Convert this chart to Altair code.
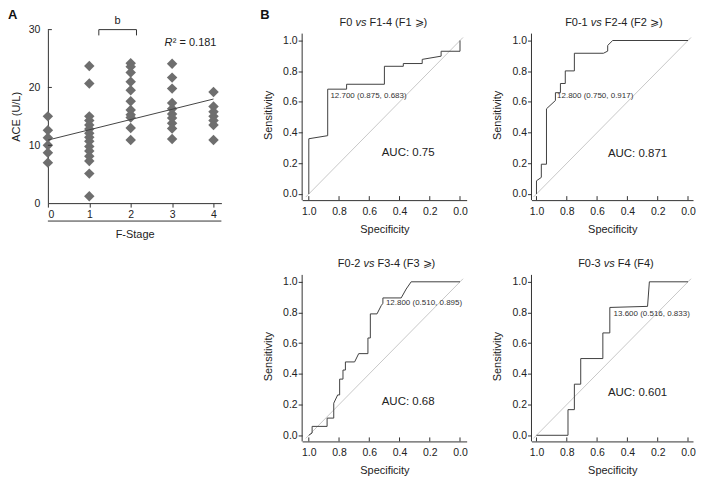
import altair as alt
import pandas as pd

FONT = "Liberation Sans"
INK = "#333333"

# ---------------- Panel A data ----------------
stage0 = [15.0, 12.6, 11.3, 10.0, 8.7, 7.0]
stage1 = [23.7, 20.7, 15.0, 14.3, 13.5, 12.8, 12.1, 11.4, 10.7, 9.8, 9.0, 8.1, 7.3, 5.1, 1.2]
stage2 = [24.2, 23.6, 22.6, 21.0, 19.5, 17.6, 16.1, 15.3, 14.8, 13.0, 10.9]
stage3 = [24.1, 21.7, 19.8, 17.3, 16.3, 15.4, 14.7, 13.8, 12.9, 11.1]
stage4 = [19.2, 16.7, 15.8, 15.0, 14.3, 13.5, 10.9]
fit_x = [0, 4]
fit_y = [10.9, 18.0]
bracket_x = [1.23, 1.23, 2.14, 2.14]
bracket_y = [29.0, 30.0, 30.0, 29.0]
a_ticks = [10, 20, 30]

# ---------------- Panel B data (ROC curves) ----------------
spec1 = [1.0, 1.0, 0.875, 0.875, 0.75, 0.75, 0.5, 0.5, 0.375, 0.375, 0.25, 0.25, 0.125, 0.125, 0.0, 0.0]
sens1 = [0.0, 0.36, 0.38, 0.683, 0.683, 0.715, 0.715, 0.832, 0.832, 0.85, 0.85, 0.877, 0.898, 0.93, 0.93, 1.0]

spec2 = [1.0, 1.0, 0.968, 0.968, 0.934, 0.934, 0.875, 0.875, 0.842, 0.842, 0.81, 0.81, 0.75, 0.75, 0.558, 0.53, 0.53, 0.497, 0.0]
sens2 = [0.0, 0.086, 0.108, 0.194, 0.194, 0.555, 0.609, 0.66, 0.66, 0.72, 0.72, 0.802, 0.802, 0.917, 0.917, 0.931, 0.968, 1.0, 1.0]

spec3 = [1.0, 0.978, 0.978, 0.879, 0.879, 0.835, 0.835, 0.809, 0.796, 0.796, 0.774, 0.774, 0.758, 0.758,
         0.697, 0.670, 0.609, 0.609, 0.593, 0.593, 0.549, 0.521, 0.510, 0.510, 0.389, 0.356, 0.323, 0.0]
sens3 = [0.0, 0.015, 0.058, 0.058, 0.112, 0.112, 0.209, 0.263, 0.263, 0.366, 0.366, 0.425, 0.425, 0.478,
         0.478, 0.532, 0.532, 0.634, 0.634, 0.791, 0.791, 0.845, 0.860, 0.895, 0.895, 0.953, 1.0, 1.0]

spec4 = [1.0, 0.792, 0.792, 0.75, 0.75, 0.708, 0.708, 0.562, 0.562, 0.516, 0.516, 0.267, 0.255, 0.0]
sens4 = [0.0, 0.0, 0.167, 0.167, 0.333, 0.333, 0.5, 0.5, 0.667, 0.667, 0.833, 0.84, 1.0, 1.0]

title_pre = ["F0", "F0-1", "F0-2", "F0-3"]
title_mid = ["vs", "vs", "vs", "vs"]
title_suf = ["F1-4 (F1 \u2a7e)", "F2-4 (F2 \u2a7e)", "F3-4 (F3 \u2a7e)", "F4 (F4)"]
title_vs_x = [59, 65, 67, 78]
cut_labels = ["12.700 (0.875, 0.683)", "12.800 (0.750, 0.917)", "12.800 (0.510, 0.895)", "13.600 (0.516, 0.833)"]
cut_spec = [0.857, 0.864, 0.49, 0.491]
cut_sens = [0.637, 0.639, 0.864, 0.79]
auc_labels = ["AUC: 0.75", "AUC: 0.871", "AUC: 0.68", "AUC: 0.601"]
auc_spec = [0.343, 0.333, 0.343, 0.333]
auc_sens = [0.266, 0.26, 0.22, 0.275]
roc_ticks = [1.0, 0.8, 0.6, 0.4, 0.2, 0.0]
roc_ymin, roc_ymax = -0.04, 1.045

# ---------------- Panel A ----------------
WA, HA = 174, 174
stages = [0] * len(stage0) + [1] * len(stage1) + [2] * len(stage2) + [3] * len(stage3) + [4] * len(stage4)
aces = stage0 + stage1 + stage2 + stage3 + stage4
ace_df = pd.DataFrame({"stage": stages, "ace": aces})

xA = alt.X("stage:Q", scale=alt.Scale(domain=[0, 4.19], nice=False, zero=False),
           axis=alt.Axis(values=[0, 1, 2, 3, 4], format="d", title="F-Stage", tickSize=4,
                         labelPadding=2, titlePadding=9, grid=False))
yA = alt.Y("ace:Q", scale=alt.Scale(domain=[0, 30], nice=False),
           axis=alt.Axis(values=[0, 10, 20, 30], ticks=False, labelPadding=8,
                         title="ACE (U/L)", titlePadding=7, grid=False))

pts = alt.Chart(ace_df).mark_point(shape="diamond", filled=True, size=110, opacity=1, color="#6e6e6e").encode(x=xA, y=yA)
fit = alt.Chart(pd.DataFrame({"stage": fit_x, "ace": fit_y})).mark_line(color="#444444", strokeWidth=1).encode(x=xA, y=yA)
yt = alt.Chart(pd.DataFrame({"ace": a_ticks})).mark_rule(color=INK, strokeWidth=1).encode(
    y=yA, x=alt.value(0), x2=alt.value(4))
br = alt.Chart(pd.DataFrame({"stage": bracket_x, "ace": bracket_y, "i": [0, 1, 2, 3]})).mark_line(
    color=INK, strokeWidth=1).encode(x=xA, y=yA, order="i:Q")
btxt = alt.Chart(pd.DataFrame({"stage": [1.685], "ace": [31.5], "t": ["b"]})).mark_text(
    fontSize=11, font=FONT, color="#222", baseline="middle").encode(x=xA, y=yA, text="t:N")
r2a = alt.Chart(pd.DataFrame({"stage": [4.07], "ace": [27.6], "t": ["\u00b2 = 0.181"]})).mark_text(
    fontSize=11, font=FONT, color="#222", align="right", baseline="middle").encode(x=xA, y=yA, text="t:N")
r2b = alt.Chart(pd.DataFrame({"stage": [4.07], "ace": [27.6], "t": ["R"]})).mark_text(
    fontSize=11, font=FONT, color="#222", align="right", baseline="middle", fontStyle="italic", dx=-44).encode(
    x=xA, y=yA, text="t:N")
under = alt.Chart(pd.DataFrame({"t": ["u"]})).mark_rule(color=INK, strokeWidth=1).encode(
    x=alt.value(0), x2=alt.value(WA), y=alt.value(HA + 18))
lblA = alt.Chart(pd.DataFrame({"t": ["A"]})).mark_text(
    fontSize=13, font=FONT, fontWeight="bold", color="#111", align="left", baseline="top").encode(
    x=alt.value(-40), y=alt.value(-21), text="t:N")

panelA = alt.layer(pts, fit, yt, br, btxt, r2a, r2b, under, lblA).properties(width=WA, height=HA)


# ---------------- Panel B ----------------
EXT = 4  # the ROC plot frame starts 4px above the top of its y axis line


def roc(k, width, xdom, with_B=False):
    H = 167 + EXT
    top = roc_ymax + (roc_ymax - roc_ymin) * EXT / 167.0
    spec = [spec1, spec2, spec3, spec4][k]
    sens = [sens1, sens2, sens3, sens4][k]
    xB = alt.X("spec:Q", scale=alt.Scale(domain=xdom, nice=False, zero=False),
               axis=alt.Axis(values=roc_ticks, format=".1f", title="Specificity", ticks=False,
                             labelPadding=6, titlePadding=7, grid=False))
    yB = alt.Y("sens:Q", scale=alt.Scale(domain=[roc_ymin, top], nice=False, zero=False),
               axis=alt.Axis(values=roc_ticks, format=".1f", title="Sensitivity", tickSize=4, domain=False,
                             labelPadding=1, titlePadding=9, grid=False))
    yline = alt.Chart(pd.DataFrame({"sens": [roc_ymin], "sens_end": [roc_ymax]})).mark_rule(
        color=INK, strokeWidth=1).encode(x=alt.value(0), y=yB, y2="sens_end:Q")
    diag = alt.Chart(pd.DataFrame({"spec": [1.02, -0.02], "sens": [-0.02, 1.02]})).mark_line(
        color="#c8c8c8", strokeWidth=1).encode(x=xB, y=yB)
    curve = alt.Chart(pd.DataFrame({"spec": spec, "sens": sens, "i": list(range(len(spec)))})).mark_line(
        color="#404040", strokeWidth=1).encode(x=xB, y=yB, order="i:Q")
    xt = alt.Chart(pd.DataFrame({"spec": roc_ticks})).mark_rule(color=INK, strokeWidth=1).encode(
        x=xB, y=alt.value(H), y2=alt.value(H - 4))
    cut = alt.Chart(pd.DataFrame({"spec": [cut_spec[k]], "sens": [cut_sens[k]], "t": [cut_labels[k]]})).mark_text(
        fontSize=8, font=FONT, color="#333", align="left", baseline="middle").encode(x=xB, y=yB, text="t:N")
    auc = alt.Chart(pd.DataFrame({"spec": [auc_spec[k]], "sens": [auc_sens[k]], "t": [auc_labels[k]]})).mark_text(
        fontSize=11.5, font=FONT, color="#222", align="center", baseline="middle").encode(x=xB, y=yB, text="t:N")
    ttl = pd.DataFrame({"t": [title_pre[k]], "m": [title_mid[k]], "s": [title_suf[k]]})
    tx = title_vs_x[k]
    t1 = alt.Chart(ttl).mark_text(fontSize=11, font=FONT, color="#222", align="right", baseline="alphabetic",
                                  dx=-8.6).encode(x=alt.value(tx), y=alt.value(EXT - 8), text="t:N")
    t2 = alt.Chart(ttl).mark_text(fontSize=11, font=FONT, color="#222", align="center", baseline="alphabetic",
                                  fontStyle="italic").encode(x=alt.value(tx), y=alt.value(EXT - 8), text="m:N")
    t3 = alt.Chart(ttl).mark_text(fontSize=11, font=FONT, color="#222", align="left", baseline="alphabetic",
                                  dx=8.6).encode(x=alt.value(tx), y=alt.value(EXT - 8), text="s:N")
    layers = [yline, diag, curve, xt, cut, auc, t1, t2, t3]
    if with_B:
        layers.append(alt.Chart(pd.DataFrame({"t": ["B"]})).mark_text(
            fontSize=13, font=FONT, fontWeight="bold", color="#111", align="left", baseline="top").encode(
            x=alt.value(-42), y=alt.value(EXT - 25), text="t:N"))
    return alt.layer(*layers).properties(width=width, height=H)


B1 = roc(0, 165, [1.044, -0.044], with_B=True)
B2 = roc(1, 162, [1.033, -0.033])
B3 = roc(2, 165, [1.044, -0.044])
B4 = roc(3, 162, [1.033, -0.033])

gridB = alt.vconcat(alt.hconcat(B1, B2, spacing=24), alt.hconcat(B3, B4, spacing=24), spacing=23)

chart = alt.hconcat(panelA, gridB, spacing=38).properties(padding=0).configure_view(stroke=None).configure_axis(
    labelFont=FONT, titleFont=FONT, labelFontSize=10.5, titleFontSize=11, labelColor="#222",
    titleColor="#222", domainColor=INK, tickColor=INK, titleFontWeight="normal")

chart.save("out.html", embed_options={"renderer": "svg", "actions": False})
